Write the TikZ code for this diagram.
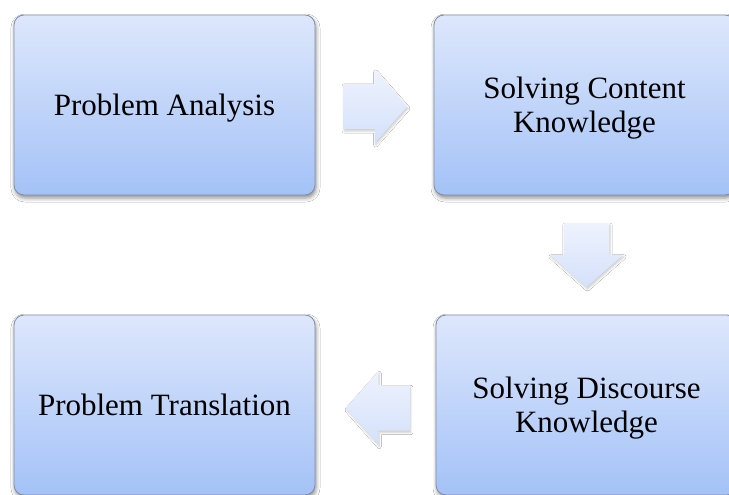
\documentclass[tikz,border=0pt]{standalone}
\usepackage{fontspec}
\setmainfont{Liberation Serif}
\usetikzlibrary{shapes.arrows,shadows.blur}

\definecolor{boxtop}{RGB}{221,231,252}
\definecolor{boxbottom}{RGB}{164,194,247}
\definecolor{boxline}{RGB}{128,140,165}
\definecolor{arrtop}{RGB}{238,242,253}
\definecolor{arrbottom}{RGB}{212,225,251}

\tikzset{
  stagebox/.style={
    rectangle, rounded corners=10pt,
    minimum width=301pt, minimum height=180pt,
    top color=boxtop, bottom color=boxbottom,
    draw=boxline, line width=0.8pt,
    blur shadow={shadow xshift=1pt, shadow yshift=-3pt,
                 shadow blur radius=4pt, shadow opacity=45},
    align=center, text=black, text depth=0pt,
    font=\fontsize{31}{34}\selectfont
  },
  flowarrow/.style={
    single arrow, inner xsep=0pt, inner ysep=22.5pt,
    minimum height=64pt, minimum width=73pt,
    single arrow head extend=14pt,
    single arrow tip angle=97,
    top color=arrtop, bottom color=arrbottom,
    draw=none, anchor=tail,
    blur shadow={shadow xshift=1pt, shadow yshift=-2pt,
                 shadow blur radius=2pt, shadow opacity=20}
  }
}

\begin{document}
\begin{tikzpicture}[x=1pt,y=-1pt]
  \useasboundingbox (0,0) rectangle (729,495);
  \fill[white] (0,0) rectangle (729,495);
  \clip (0,0) rectangle (729,495);

  % the four stages
  \node[stagebox] (analysis)   at (164.5,105) {Problem Analysis};
  \node[stagebox] (content)    at (584.5,105) {Solving Content\\Knowledge};
  \node[stagebox] (discourse)  at (586.5,405) {Solving Discourse\\Knowledge};
  \node[stagebox] (translation) at (164.5,405) {Problem Translation};

  % block arrows between the stages, placed by their tails
  \node[flowarrow] (a1) at (343,106.5) {};
  \node[flowarrow, shape border rotate=270, inner xsep=22.5pt, inner ysep=0pt]
    (a2) at (586.5,223) {};
  \node[flowarrow, shape border rotate=180] (a3) at (410,408) {};
\end{tikzpicture}
\end{document}
